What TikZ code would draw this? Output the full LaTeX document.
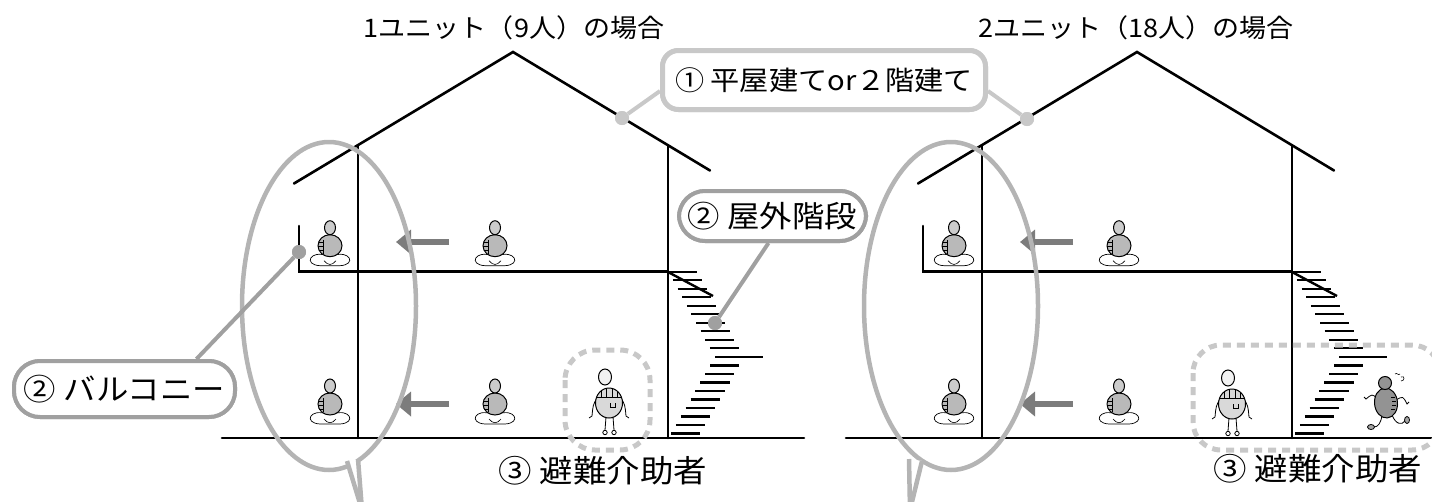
\documentclass[tikz,border=0pt]{standalone}
\usepackage{fontspec}
\newfontfamily\jp[FakeStretch=1.08]{Noto Sans CJK JP}
\newfontfamily\jpt[FakeStretch=1.06]{Noto Sans CJK JP}
\usetikzlibrary{calc,arrows.meta}
\definecolor{callgray}{HTML}{A0A0A0}
\definecolor{lightcall}{HTML}{C8C8C8}
\definecolor{bubble}{HTML}{B4B4B4}
\definecolor{arrowgray}{HTML}{7C7C7C}
\definecolor{dashgray}{HTML}{C8C8C8}

\tikzset{
  % seated resident
  sitter/.pic={
    \draw[line width=0.7pt,fill=white] (-3,9) .. controls (-20,3) and (-27,18) .. (-10,19)
        -- (10,19) .. controls (27,18) and (20,3) .. (3,9);
    \draw[line width=0.6pt] (-6,14) .. controls (-2,19) and (2,19) .. (6,14);
    \draw[line width=1pt,fill=gray!55] (0,-1) ellipse [x radius=12,y radius=11];
    \draw[line width=0.6pt] (-7,-7) -- (-7,7)
        (-11,-4) -- (-7,-4) (-12,0) -- (-7,0) (-11,4) -- (-7,4);
    \draw[line width=1pt,fill=gray!40] (0,-19) ellipse [x radius=5.5,y radius=7];
  },
  % care helper with apron
  helper/.pic={
    \draw[line width=0.8pt] (-12,-5) .. controls (-16,2) .. (-17,13) -- (-20,15);
    \draw[line width=0.8pt] (12,-5) .. controls (16,2) .. (17,13) -- (20,15);
    \draw[line width=0.8pt] (-3,14) -- (-4,27) (4,14) -- (5,27);
    \draw[line width=0.8pt] (-4,29.5) circle [radius=2.2] (5,29.5) circle [radius=2.2];
    \draw[line width=1pt,fill=gray!30] (0,0) ellipse [x radius=13.5,y radius=15];
    \begin{scope}
      \clip (0,0) ellipse [x radius=13.5,y radius=15];
      \draw[line width=0.7pt] (-13,-6) -- (13,-6)
        (-8,-16) -- (-8,-6) (-3,-16) -- (-3,-6) (3,-16) -- (3,-6) (8,-16) -- (8,-6);
    \end{scope}
    \draw[line width=0.7pt] (1,0) -- (1,4) -- (6,4) -- (6,0);
    \draw[line width=1pt,fill=gray!10] (-4,-26) ellipse [x radius=6.5,y radius=8];
  },
  % resident escaping on foot
  runner/.pic={
    \draw[line width=0.8pt] (-9,-5) .. controls (-14,-9) .. (-20,-4) -- (-22,-6);
    \draw[line width=0.8pt] (10,-3) .. controls (17,-7) .. (21,1) -- (23,-1);
    \draw[line width=0.8pt] (-4,12) .. controls (-5,20) and (-8,24) .. (-12,24);
    \draw[line width=0.8pt,fill=gray!70] (-15,24) ellipse [x radius=3.5,y radius=2.5];
    \draw[line width=0.8pt] (6,12) .. controls (10,22) and (16,22) .. (19,18);
    \draw[line width=0.8pt,fill=gray!70] (21,17) ellipse [x radius=2.5,y radius=3.5];
    \draw[line width=1pt,fill=gray!85,rotate=5] (0,0) ellipse [x radius=11.5,y radius=15];
    \draw[line width=0.6pt] (5,-6) -- (9,-6) (6,-2) -- (10,-2) (6,2) -- (10,2) (5,6) -- (9,6);
    \draw[line width=1pt,fill=gray!85] (-1,-20) circle [radius=6.5];
    \draw[line width=0.6pt] (9,-29) .. controls (11,-31) and (12,-27) .. (14,-29);
    \draw[line width=0.6pt] (15,-26) .. controls (19,-28) and (19,-22) .. (15,-22);
  },
  wall/.style={line width=2.6pt,black,line cap=round},
  tread/.style={line width=2.4pt,black},
  bubbleline/.style={draw=bubble,line width=4.5pt},
  evac/.style={draw=arrowgray,line width=6.5pt,-{Triangle[length=15pt,width=24pt]}},
  pillbox/.style={draw=callgray,line width=4pt,fill=white,rounded corners=26pt,
    inner sep=0pt,font=\jp\fontsize{30}{32}\selectfont},
  roofbox/.style={draw=lightcall,line width=5pt,fill=white,rounded corners=16pt,
    inner sep=0pt,font=\jp\fontsize{27}{30}\selectfont},
  calloutline/.style={draw=callgray,line width=4pt},
  lightline/.style={draw=lightcall,line width=4pt},
  calldot/.style={circle,fill=callgray,inner sep=0pt,minimum size=14pt},
  lightdot/.style={circle,fill=lightcall,inner sep=0pt,minimum size=14pt},
  dashbox/.style={draw=dashgray,line width=5pt,dash pattern=on 8pt off 6pt},
  caption/.style={font=\jpt\fontsize{25.5}{28}\selectfont,inner sep=0pt},
  helpertext/.style={font=\jp\fontsize{31}{33}\selectfont,inner sep=0pt},
}

\begin{document}
\begin{tikzpicture}[x=1pt,y=-1pt]
\useasboundingbox (0,0) rectangle (1432,501);

% ---------- the two houses (the 2-unit one is the same frame shifted right) ----------
\foreach \sx/\gl/\gr in {0/222/804, 624/846/1432}{
  \begin{scope}[xshift=\sx pt]
    % roof
    \draw[wall] (294,183.5) -- (513,52) -- (710,170.5);
    % walls
    \draw[wall] (358,145.5) -- (358,438);
    \draw[wall] (668,145.5) -- (668,438);
    % upper floor and balcony rail
    \draw[wall] (299,226) -- (299,271.7) -- (668,271.7);
    % outdoor stair: upper flight, landing, lower flight
    \foreach \i in {0,...,9}
      \draw[tread] ({668.3+4.63*\i},{271.7+8.5*\i}) -- ++(29,0);
    \draw[tread] (715,356.7) -- (763.3,356.7);
    \foreach \j in {0,...,8}
      \draw[tread] ({710-4.87*\j},{365.3+8.5*\j}) -- ++(29.3,0);
    \draw[tread] (668,272) -- (713,296);
  \end{scope}
  \draw[wall] (\gl,438) -- (\gr,438);
}

% ---------- residents ----------
\foreach \px in {330,495,954,1119}{
  \pic at (\px,246.7) {sitter};
  \pic at (\px,405) {sitter};
}
\pic at (609,403) {helper};
\pic at (1232,404) {helper};
\pic at (1386,403) {runner};

% ---------- evacuation arrows ----------
\coordinate (a1s) at (449,242); \coordinate (a1e) at (396,242);
\coordinate (a2s) at (449,404); \coordinate (a2e) at (396,404);
\coordinate (a3s) at (1073,242); \coordinate (a3e) at (1020,242);
\coordinate (a4s) at (1073,404); \coordinate (a4e) at (1020,404);
\draw[evac] (a1s) -- (a1e);
\draw[evac] (a2s) -- (a2e);
\draw[evac] (a3s) -- (a3e);
\draw[evac] (a4s) -- (a4e);

% ---------- balcony-side speech bubbles ----------
\draw[bubbleline] (329,306) ellipse [x radius=87,y radius=164];
\draw[bubbleline] (951,306) ellipse [x radius=87,y radius=164];
\coordinate (t1a) at (347,461); \coordinate (t1b) at (358,459); \coordinate (t1c) at (362,510);
\coordinate (t2a) at (909,459); \coordinate (t2b) at (922,461); \coordinate (t2c) at (910,510);
\fill[white] (t1a) -- (t1c) -- (t1b) -- cycle;
\draw[bubbleline] (t1a) -- (t1c) -- (t1b);
\fill[white] (t2a) -- (t2c) -- (t2b) -- cycle;
\draw[bubbleline] (t2a) -- (t2c) -- (t2b);

% ---------- helper groups ----------
\draw[dashbox,rounded corners=30pt] (565,350) rectangle (650,450);
\draw[dashbox,rounded corners=28pt] (1193,345) rectangle (1440,450);

% ---------- callouts ----------
\node[lightdot] (rdotL) at (622,118) {};
\node[lightdot] (rdotR) at (1027,119) {};
\node[calldot] (sdot) at (715,323) {};
\node[calldot] (bdot) at (299,252) {};
\node[roofbox,minimum width=323pt,minimum height=59pt] (lbl1) at (824,80) {};
\node[pillbox,minimum width=187pt,minimum height=50pt] (lbl2s) at (772.5,216) {};
\node[pillbox,minimum width=221pt,minimum height=56pt] (lbl2b) at (124.5,389) {};

\draw[lightline] ($(lbl1.west)+(0,11)$) -- (rdotL);
\draw[lightline] ($(lbl1.east)+(0,11)$) -- (rdotR);
\draw[calloutline] ($(lbl2s.south)+(-4,0)$) -- (sdot);
\draw[calloutline] ($(lbl2b.north)+(72,0)$) -- (bdot);
\node[lightdot] at (rdotL) {};
\node[lightdot] at (rdotR) {};
\node[calldot] at (sdot) {};
\node[calldot] at (bdot) {};
\node[roofbox,minimum width=323pt,minimum height=59pt] at (lbl1) {① 平屋建てor２階建て};
\node[pillbox,minimum width=187pt,minimum height=50pt] at (lbl2s) {② 屋外階段};
\node[pillbox,minimum width=221pt,minimum height=56pt] at (lbl2b) {② バルコニー};

% ---------- captions ----------
\node[caption] (cap1) at (514,28) {1ユニット（9人）の場合};
\node[caption] (cap2) at (1136,28) {2ユニット（18人）の場合};
\node[helpertext] (h1) at (603,471) {③ 避難介助者};
\node[helpertext] (h2) at (1318,469) {③ 避難介助者};
\end{tikzpicture}
\end{document}
